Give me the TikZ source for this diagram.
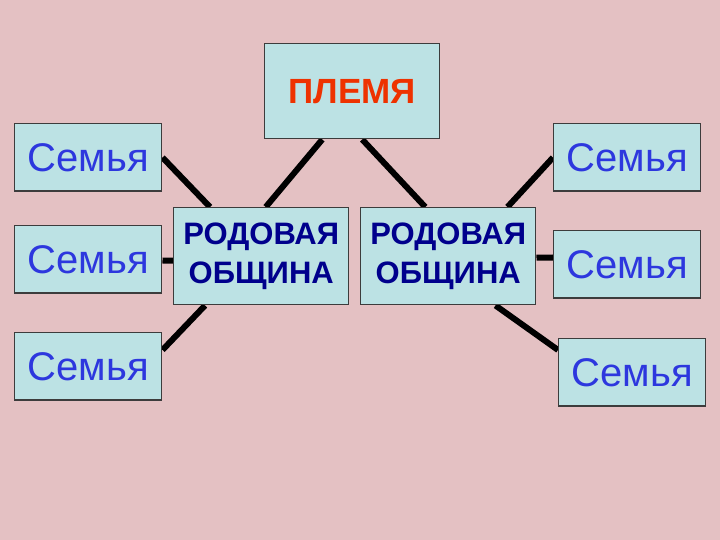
\documentclass[tikz,border=0pt]{standalone}
\usepackage{fontspec}
\setmainfont{Liberation Sans}
\usetikzlibrary{calc,backgrounds}
\definecolor{bgpink}{RGB}{228,193,195}
\definecolor{boxfill}{RGB}{188,226,228}
\definecolor{boxline}{RGB}{60,60,60}
\definecolor{tribered}{RGB}{238,50,0}
\definecolor{famblue}{RGB}{45,55,222}
\definecolor{clannavy}{RGB}{0,0,140}
\tikzset{
  box/.style={rectangle, draw=boxline, fill=boxfill, line width=0.75pt, inner sep=0, anchor=north west, align=center},
  famil/.style={box, minimum width=73.5pt, minimum height=33.75pt, text=famblue, font=\fontsize{20}{24}\selectfont},
  clan/.style={box, minimum width=87.5pt, minimum height=48.5pt, text=clannavy, font=\fontsize{15.5}{19.5}\selectfont\bfseries},
  link/.style={line width=3pt}
}
\begin{document}
\begin{tikzpicture}[x=0.5pt,y=-0.5pt]
    \useasboundingbox (0,0) rectangle (720,540);
    \node[box, minimum width=87.5pt, minimum height=47.5pt, text=tribered, font=\fontsize{17.5}{21}\selectfont\bfseries](tribe) at (264,43){ПЛЕМЯ};
    \node[clan](rodL) at (173,207){РОДОВАЯ\\ОБЩИНА};
    \node[clan](rodR) at (360,207){РОДОВАЯ\\ОБЩИНА};
    \node[famil](semL1) at (14,123){Семья};
    \node[famil](semL2) at (14,225){Семья};
    \node[famil](semL3) at (14,332){Семья};
    \node[famil](semR1) at (553,123){Семья};
    \node[famil](semR2) at (553,230){Семья};
    \node[famil](semR3) at (558,338){Семья};
    \begin{scope}[on background layer]
        \fill[bgpink] (0,0) rectangle (720,540);
        \draw[link] ($(tribe.south)+(-30,0)$) -- ($(rodL.north)+(4.5,0)$);
        \draw[link] ($(tribe.south)+(10,0)$) -- ($(rodR.north)+(-23,0)$);
        \draw[link] (semL1.east) -- ($(rodL.north west)+(37,0)$);
        \draw[link] ($(semL2.east)+(0,1)$) -- ($(rodL.west)+(0,4.5)$);
        \draw[link] ($(semL3.north east)+(0,18)$) -- ($(rodL.south west)+(32,0)$);
        \draw[link] (semR1.west) -- ($(rodR.north east)+(-29,0)$);
        \draw[link] ($(semR2.west)+(0,-7)$) -- ($(rodR.east)+(0,1.5)$);
        \draw[link] ($(semR3.north west)+(0,12)$) -- ($(rodR.south east)+(-41,0)$);
    \end{scope}
\end{tikzpicture}
\end{document}
